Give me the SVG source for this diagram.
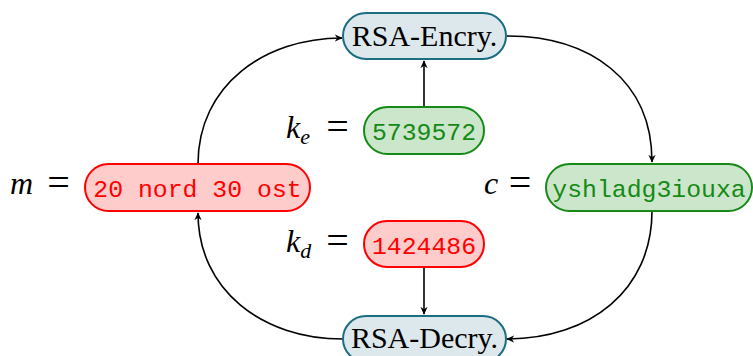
<svg xmlns="http://www.w3.org/2000/svg" width="753" height="356" viewBox="0 0 753 356">
<style>
.rsa{fill:#dde8ed;stroke:#1b6e82;stroke-width:2}
.grn{fill:#cce6cc;stroke:#168a16;stroke-width:2}
.red{fill:#ffcccc;stroke:#ff0000;stroke-width:2}
.serif{font-family:"Liberation Serif","DejaVu Serif",serif;font-size:30px;fill:#000}
.mono{font-family:"Liberation Mono","DejaVu Sans Mono",monospace;font-size:24.8px}
.gt{fill:#148a14}
.rt{fill:#ff0000}
.math{font-family:"Liberation Serif","DejaVu Serif",serif;font-size:32px;fill:#000;font-style:italic}
.eq{font-family:"Liberation Serif","DejaVu Serif",serif;font-size:40px;fill:#000;text-anchor:middle}
.edge{fill:none;stroke:#000;stroke-width:1.6;marker-end:url(#arr)}
</style>
<defs>
<marker id="arr" viewBox="0 0 10 10" refX="9" refY="5" markerWidth="8" markerHeight="8" markerUnits="userSpaceOnUse" orient="auto">
<path d="M0,0.5 L10,5 L0,9.5 L3,5 Z" fill="#000"/>
</marker>
</defs>
<g id="connectors">
<path class="edge" d="M198,164 C198,85 265,38 342,38"/>
<path class="edge" d="M507,36 C590,36 652,80 652,162"/>
<path class="edge" d="M652,211 C652,290 590,339 507,339"/>
<path class="edge" d="M343,339 C262,339 198,290 198,213"/>
<path class="edge" d="M424,107 L424,61"/>
<path class="edge" d="M424,267 L424,314"/>
</g>
<g id="encry">
<rect class="rsa" x="343" y="13" width="163" height="46" rx="23"/>
<text class="serif" x="424.5" y="46" text-anchor="middle">RSA-Encry.</text>
</g>
<g id="decry">
<rect class="rsa" x="343" y="316" width="163" height="46" rx="23"/>
<text class="serif" x="424.5" y="348" text-anchor="middle">RSA-Decry.</text>
</g>
<g id="m">
<text class="math" x="10" y="194">m</text>
<text class="eq" x="58.5" y="196">=</text>
<rect class="red" x="85" y="164" width="225" height="47" rx="23.5"/>
<text class="mono rt" x="197.5" y="196.5" text-anchor="middle">20 nord 30 ost</text>
</g>
<g id="c">
<text class="math" x="484" y="194">c</text>
<text class="eq" x="520" y="196">=</text>
<rect class="grn" x="546" y="164" width="206" height="47" rx="23.5"/>
<text class="mono gt" x="649" y="196.5" text-anchor="middle">yshladg3iouxa</text>
</g>
<g id="ke">
<text class="math" x="286" y="138">k<tspan font-size="22" dy="6">e</tspan></text>
<text class="eq" x="337.5" y="140">=</text>
<rect class="grn" x="364" y="107" width="120" height="47" rx="23.5"/>
<text class="mono gt" x="424" y="139.5" text-anchor="middle">5739572</text>
</g>
<g id="kd">
<text class="math" x="286" y="252">k<tspan font-size="22" dy="6">d</tspan></text>
<text class="eq" x="337.5" y="254">=</text>
<rect class="red" x="364" y="221" width="120" height="46" rx="23"/>
<text class="mono rt" x="424" y="253.5" text-anchor="middle">1424486</text>
</g>
</svg>
